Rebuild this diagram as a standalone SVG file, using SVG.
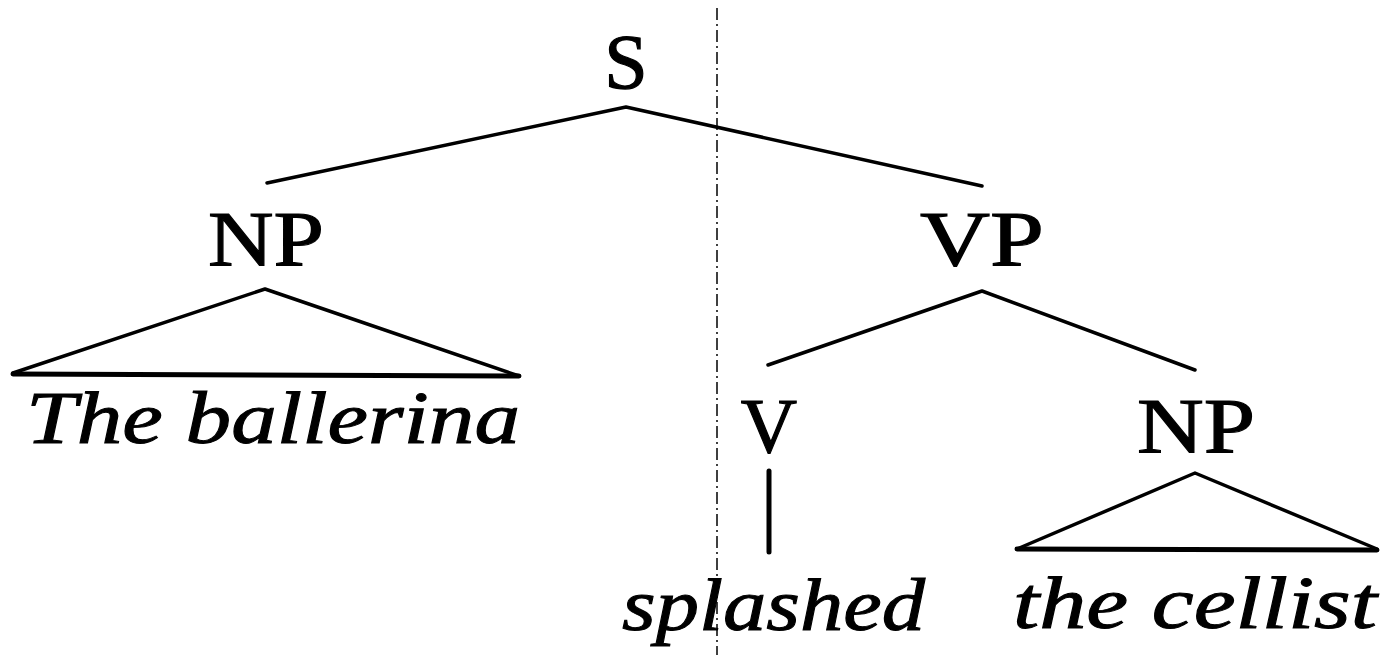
<svg xmlns="http://www.w3.org/2000/svg" width="1389" height="655" viewBox="0 0 1389 655">
  <style>
    .lbl { font-family: "Liberation Serif", "DejaVu Serif", serif; font-size: 78px; fill: #000; stroke: #000; stroke-width: 1.2; text-anchor: middle; }
    .word { font-family: "Liberation Serif", "DejaVu Serif", serif; font-style: italic; font-size: 74px; fill: #000; stroke: #000; stroke-width: 1; }
    .edge { stroke: #000; stroke-width: 3.5; fill: none; stroke-linecap: round; stroke-linejoin: round; }
    .base { stroke: #000; stroke-width: 5; stroke-linecap: round; }
    .split { stroke: #000; stroke-width: 1.5; stroke-dasharray: 12 4 2 4; }
  </style>
  <rect width="1389" height="655" fill="#fff"/>

  <!-- dash-dot division line -->
  <line class="split" x1="717" y1="8" x2="717" y2="655"/>

  <!-- branches -->
  <g id="connectors">
    <polyline class="edge" points="267,183 626,107 982,186"/>
    <polyline class="edge" points="768,365 982,291 1195,370"/>
    <line class="base" x1="769" y1="471" x2="769" y2="552"/>
  </g>

  <g id="node-s">
    <text class="lbl" x="626" y="88" font-size="84">S</text>
  </g>

  <g id="node-np1">
    <text class="lbl" x="266" y="265" textLength="116" lengthAdjust="spacingAndGlyphs">NP</text>
    <polyline class="edge" points="13,373 265,289 519,376"/>
    <line class="base" x1="13" y1="374" x2="519" y2="376"/>
    <text class="word" x="26" y="443" textLength="494" lengthAdjust="spacingAndGlyphs">The ballerina</text>
  </g>

  <g id="node-vp">
    <text class="lbl" x="982" y="265" textLength="124" lengthAdjust="spacingAndGlyphs">VP</text>
  </g>

  <g id="node-v">
    <text class="lbl" x="769" y="452">V</text>
    <text class="word" x="622" y="630" textLength="303" lengthAdjust="spacingAndGlyphs">splashed</text>
  </g>

  <g id="node-np2">
    <text class="lbl" x="1196" y="452" textLength="118" lengthAdjust="spacingAndGlyphs">NP</text>
    <polyline class="edge" points="1017,549 1195,473 1377,549"/>
    <line class="base" x1="1017" y1="549" x2="1377" y2="550"/>
    <text class="word" x="1013" y="628" textLength="364" lengthAdjust="spacingAndGlyphs">the cellist</text>
  </g>
</svg>
